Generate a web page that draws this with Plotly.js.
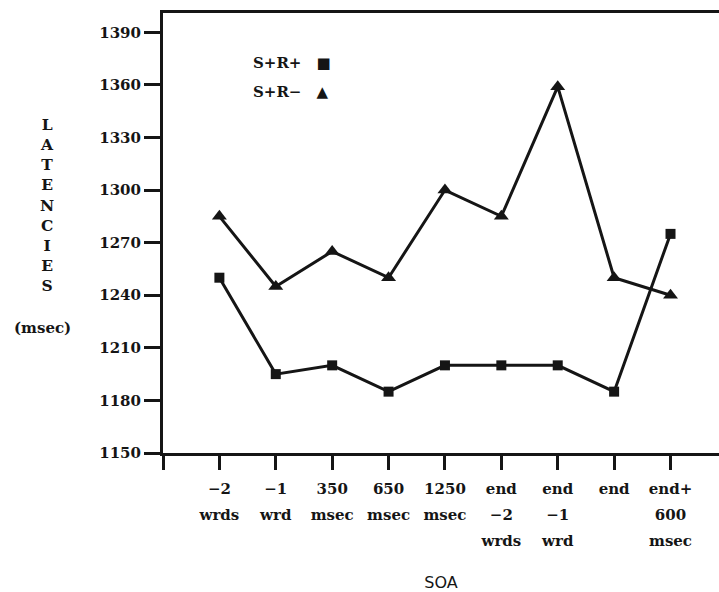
<!DOCTYPE html>
<html>
<head>
<meta charset="utf-8">
<script src="https://cdn.plot.ly/plotly-3.0.1.min.js"></script>
<style>html,body{margin:0;padding:0;background:#fff;}#chart{width:719px;height:592px;}</style>
</head>
<body>
<div id="chart"></div>
<script>
// Categories (SOA conditions), positioned at 1..9
const categoryPositions = [1, 2, 3, 4, 5, 6, 7, 8, 9];
const categoryLabels = [
  "\u22122<br>wrds",
  "\u22121<br>wrd",
  "350<br>msec",
  "650<br>msec",
  "1250<br>msec",
  "end<br>\u22122<br>wrds",
  "end<br>\u22121<br>wrd",
  "end",
  "end+<br>600<br>msec"
];
// Latencies (msec)
const srPlus  = [1250, 1195, 1200, 1185, 1200, 1200, 1200, 1185, 1275];
const srMinus = [1285, 1245, 1265, 1250, 1300, 1285, 1359, 1250, 1240];
const yTicks = [1150, 1180, 1210, 1240, 1270, 1300, 1330, 1360, 1390];

const ink = '#151515';
const serif = '"DejaVu Serif", "Liberation Serif", serif';

// wider line spacing: base font 20px (line height 26px), glyphs drawn at 15px
const styledLabels = categoryLabels.map(t =>
  t.split('<br>').map(s => '<span style="font-size:15px">' + s + '</span>').join('<br>'));

const traces = [
  {
    x: categoryPositions, y: srPlus, name: 'S+R+', mode: 'lines+markers',
    line: {color: ink, width: 3},
    marker: {symbol: 'square', size: 10, color: ink},
    showlegend: false
  },
  {
    x: categoryPositions, y: srMinus, name: 'S+R\u2212', mode: 'lines+markers',
    line: {color: ink, width: 3},
    marker: {symbol: 'triangle-up', size: 13, color: ink},
    showlegend: false
  }
];

const layout = {
  width: 719, height: 592,
  margin: {l: 163, r: 0, t: 13, b: 139},
  paper_bgcolor: '#fff', plot_bgcolor: '#fff',
  font: {family: serif, size: 15, color: ink},
  xaxis: {
    range: [0, 9.86],
    tickmode: 'array',
    tickvals: [0].concat(categoryPositions),
    ticktext: [''].concat(styledLabels),
    ticks: 'outside', ticklen: 14, tickwidth: 3, tickcolor: ink,
    showline: true, linewidth: 3, linecolor: ink, mirror: true,
    showgrid: false, zeroline: false,
    tickangle: 0,
    tickfont: {family: serif, size: 20, color: ink, weight: 'bold'},
    title: {text: 'SOA', font: {family: '"DejaVu Sans", "Open Sans", sans-serif', size: 16, color: ink}, standoff: 30}
  },
  yaxis: {
    range: [1150, 1401],
    tickmode: 'array', tickvals: yTicks,
    ticks: 'outside', ticklen: 16, tickwidth: 3, tickcolor: ink,
    showline: true, linewidth: 3, linecolor: ink,
    showgrid: false, zeroline: false,
    tickfont: {family: serif, size: 15, color: ink, weight: 'bold'}
  },
  annotations: [
    {xref: 'paper', yref: 'paper', x: -0.208, y: 0.5636, xanchor: 'center', yanchor: 'middle',
     text: 'L<br>A<br>T<br>E<br>N<br>C<br>I<br>E<br>S', showarrow: false,
     font: {family: serif, size: 15.5, color: ink, weight: 'bold'}},
    {xref: 'paper', yref: 'paper', x: -0.2176, y: 0.284, xanchor: 'center', yanchor: 'middle',
     text: '(msec)', showarrow: false, font: {family: serif, size: 15, color: ink, weight: 'bold'}},
    {xref: 'paper', yref: 'paper', x: 0.158, y: 0.886, xanchor: 'left', yanchor: 'middle',
     text: '<b>S+R+</b>\u2003\u25A0', showarrow: false, font: {family: serif, size: 15, color: ink}},
    {xref: 'paper', yref: 'paper', x: 0.158, y: 0.820, xanchor: 'left', yanchor: 'middle',
     text: '<b>S+R\u2212</b>\u2003\u25B2', showarrow: false, font: {family: serif, size: 15, color: ink}}
  ]
};

Plotly.newPlot('chart', traces, layout, {displayModeBar: false, staticPlot: true});
</script>
</body>
</html>
